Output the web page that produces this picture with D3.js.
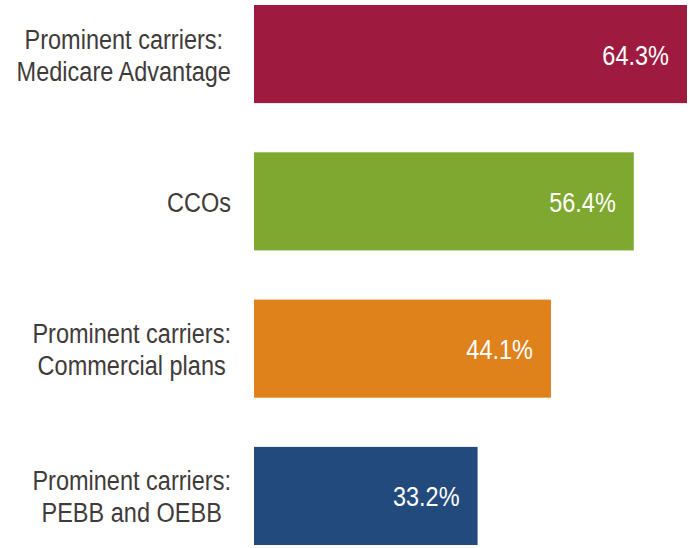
<!DOCTYPE html>
<html>
<head>
<meta charset="utf-8">
<script src="https://cdn.jsdelivr.net/npm/d3@7"></script>
<style>
  body { margin: 0; background: #fff; }
  text { font-family: "Liberation Sans", Arial, sans-serif; }
</style>
</head>
<body>
<div id="chart"></div>
<script>
//Data
let categories = [
    ["Prominent carriers:", "Medicare Advantage"],
    ["CCOs"],
    ["Prominent carriers:", "Commercial plans"],
    ["Prominent carriers:", "PEBB and OEBB"]
];
let values = [64.3, 56.4, 44.1, 33.2];
let colors = ["#9e1b3f", "#7fa830", "#e0821c", "#224a7c"];

//Size
let svgWidth = 692;
let svgHeight = 548;
let margin = { top: 5, right: 5, bottom: 3, left: 254 };

//No narrow font installed, so squeeze a regular one horizontally
let squeeze = 0.84;
let fontSize = 28;

let svg = d3.select("#chart")
    .append("svg")
    .attr("width", svgWidth)
    .attr("height", svgHeight);

//Scales
let x = d3.scaleLinear()
    .domain([0, d3.max(values)])
    .range([margin.left, svgWidth - margin.right]);

let y = d3.scaleBand()
    .domain(d3.range(values.length))
    .range([margin.top, svgHeight - margin.bottom])
    .paddingInner(0.334)
    .paddingOuter(0);

//Bars
svg.selectAll("rect.bar")
    .data(values)
    .enter()
    .append("rect")
    .attr("class", "bar")
    .attr("x", x(0))
    .attr("y", function(d, i) { return y(i); })
    .attr("width", function(d) { return x(d) - x(0); })
    .attr("height", y.bandwidth())
    .attr("fill", function(d, i) { return colors[i]; });

//Value labels inside bars
svg.selectAll("text.value")
    .data(values)
    .enter()
    .append("text")
    .attr("class", "value")
    .attr("transform", function(d, i) {
        return "translate(" + (x(d) - 18) + "," + (y(i) + y.bandwidth() / 2 + 10.5) + ") scale(" + squeeze + ",1)";
    })
    .attr("text-anchor", "end")
    .style("font-size", fontSize + "px")
    .style("fill", "#ffffff")
    .text(function(d) { return d.toFixed(1) + "%"; });

//Category labels: block right aligned, lines centred within block
let labelRight = 231;
let lineHeight = 32;
categories.forEach(function(lines, i) {
    let cy = y(i) + y.bandwidth() / 2;
    let g = svg.append("g").attr("class", "label");
    let texts = lines.map(function(line, j) {
        return g.append("text")
            .attr("text-anchor", "middle")
            .style("font-size", fontSize + "px")
            .style("fill", "#3f3b3a")
            .text(line);
    });
    let maxW = d3.max(texts, function(t) { return t.node().getComputedTextLength(); }) * squeeze;
    texts.forEach(function(t, j) {
        let ty = cy + 10.5 + (j - (lines.length - 1) / 2) * lineHeight;
        t.attr("transform", "translate(" + (labelRight - maxW / 2) + "," + ty + ") scale(" + squeeze + ",1)");
    });
});
</script>
</body>
</html>
